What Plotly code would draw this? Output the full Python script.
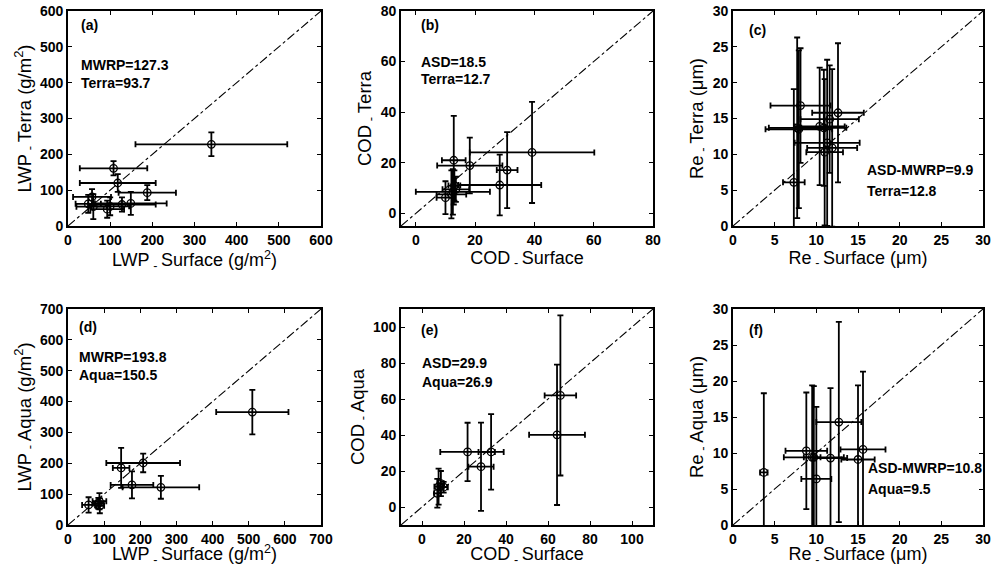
import plotly.graph_objects as go

# ---------------- data ----------------
# (a) LWP Surface vs LWP Terra
a_x = [340, 108, 118, 188, 149, 128, 57, 48, 60, 93, 100]
a_y = [228, 161, 120, 93, 63, 60, 81, 62, 54, 47, 55]
a_xerr = [180, 80, 90, 68, 85, 80, 45, 30, 40, 40, 45]
a_yerr = [33, 20, 25, 21, 32, 20, 22, 25, 35, 24, 25]

# (b) COD Surface vs COD Terra
b_x = [39.2, 30.8, 28.3, 18.2, 12.8, 10.0, 12.5, 13.5, 12.0, 13.0]
b_y = [24.1, 17.1, 11.2, 18.9, 21.0, 6.2, 8.5, 9.5, 7.5, 11.0]
b_xerr = [21, 3.5, 14, 11, 4, 3, 12.5, 4.5, 5, 2]
b_yerr = [20, 15, 12, 11, 17.5, 6.5, 9, 5, 9.5, 6]

# (c) Re Surface vs Re Terra
c_x = [7.3, 8.1, 7.7, 7.9, 10.4, 10.9, 11.6, 12.6, 11.3, 11.9, 11.0]
c_y = [6.1, 16.8, 13.7, 13.5, 13.9, 13.7, 14.9, 15.8, 11.6, 10.9, 10.3]
c_xerr = [1.3, 3.6, 3.4, 4.0, 3.0, 2.7, 3.5, 3.1, 3.9, 3.0, 2.2]
c_yerr = [13, 8, 12.6, 11, 8.2, 8.1, 7.5, 9.7, 11.6, 11.0, 10.2]

# (d) LWP Surface vs LWP Aqua
d_x = [510, 208, 147, 177, 257, 57, 87, 88, 84]
d_y = [366, 201, 185, 130, 122, 65, 77, 62, 70]
d_xerr = [100, 102, 23, 59, 106, 18, 19, 12, 15]
d_yerr = [72, 30, 65, 44, 37, 25, 26, 24, 18]

# (e) COD Surface vs COD Aqua
e_x = [65.9, 64.3, 21.7, 32.9, 28.1, 7.9, 9.0, 10.3, 7.3]
e_y = [62.0, 40.1, 30.6, 30.6, 22.4, 11.3, 13.0, 11.0, 7.6]
e_xerr = [7.5, 13.3, 13, 6, 6, 2, 1.5, 2, 1.5]
e_yerr = [44.5, 39, 16.2, 21, 24.5, 10, 7, 3, 8]

# (f) Re Surface vs Re Aqua
f_x = [3.7, 8.8, 9.5, 9.7, 10.0, 11.7, 12.7, 15.0, 15.6]
f_y = [7.3, 10.3, 9.4, 9.4, 6.4, 9.3, 14.3, 9.1, 10.5]
f_xerr = [0.45, 2.5, 1.0, 3.6, 1.8, 2.0, 2.7, 2.0, 2.7]
f_yerr = [11, 8.1, 10, 9.9, 10, 9.7, 13.9, 10.3, 10.8]

# tick values per panel
a_ticks = [0, 100, 200, 300, 400, 500, 600]
b_ticks = [0, 20, 40, 60, 80]
c_ticks = [0, 5, 10, 15, 20, 25, 30]
d_ticks = [0, 100, 200, 300, 400, 500, 600, 700]
e_ticks = [0, 20, 40, 60, 80, 100]
f_ticks = [0, 5, 10, 15, 20, 25, 30]

panel_labels = ["(a)", "(b)", "(c)", "(d)", "(e)", "(f)"]
stat_text = [
    ["MWRP=127.3", "Terra=93.7"],
    ["ASD=18.5", "Terra=12.7"],
    ["ASD-MWRP=9.9", "Terra=12.8"],
    ["MWRP=193.8", "Aqua=150.5"],
    ["ASD=29.9", "Aqua=26.9"],
    ["ASD-MWRP=10.8", "Aqua=9.5"],
]
SEP = "\u2009<sub>-</sub>\u2009"
x_titles = [
    "LWP" + SEP + "Surface (g/m<sup>2</sup>)",
    "COD" + SEP + "Surface",
    "Re" + SEP + "Surface (\u03bcm)",
    "LWP" + SEP + "Surface (g/m<sup>2</sup>)",
    "COD" + SEP + "Surface",
    "Re" + SEP + "Surface (\u03bcm)",
]
y_titles = [
    "LWP" + SEP + "Terra (g/m<sup>2</sup>)",
    "COD" + SEP + "Terra",
    "Re" + SEP + "Terra (\u03bcm)",
    "LWP" + SEP + "Aqua (g/m<sup>2</sup>)",
    "COD" + SEP + "Aqua",
    "Re" + SEP + "Aqua (\u03bcm)",
]
ranges = [[0, 600], [-5, 80], [0, 30], [0, 700], [-10, 110], [0, 30]]
ticks = [a_ticks, b_ticks, c_ticks, d_ticks, e_ticks, f_ticks]

# text placement inside each panel (fractions of the plot area):
# (label x, label y, stats x, stats line1 y, stats line2 y)
text_pos = [
    (0.045, 0.935, 0.045, 0.749, 0.665),
    (0.072, 0.935, 0.072, 0.764, 0.684),
    (0.055, 0.912, 0.527, 0.260, 0.164),
    (0.036, 0.915, 0.036, 0.779, 0.694),
    (0.072, 0.903, 0.076, 0.749, 0.663),
    (0.055, 0.903, 0.532, 0.262, 0.165),
]

# ---------------- layout geometry ----------------
W, H = 993, 567
col_px = [(68, 321), (401, 653), (733, 983)]
row_px = [(11, 226), (309, 525)]

data = [
    (a_x, a_y, a_xerr, a_yerr),
    (b_x, b_y, b_xerr, b_yerr),
    (c_x, c_y, c_xerr, c_yerr),
    (d_x, d_y, d_xerr, d_yerr),
    (e_x, e_y, e_xerr, e_yerr),
    (f_x, f_y, f_xerr, f_yerr),
]

FONT = "Liberation Sans"
fig = go.Figure()
layout = dict(
    width=W, height=H, margin=dict(l=0, r=0, t=0, b=0, autoexpand=False),
    paper_bgcolor="white", plot_bgcolor="white", showlegend=False,
    font=dict(family=FONT, color="black"),
)
annotations = []

for i, (xs, ys, xe, ye) in enumerate(data):
    r, c = divmod(i, 3)
    n = i + 1
    xk = "x" if n == 1 else f"x{n}"
    yk = "y" if n == 1 else f"y{n}"
    lo, hi = ranges[i]
    # 1:1 line
    fig.add_trace(go.Scatter(
        x=[lo, hi], y=[lo, hi], mode="lines", xaxis=xk, yaxis=yk,
        line=dict(color="black", width=1.1, dash="dashdot"), hoverinfo="skip"))
    fig.add_trace(go.Scatter(
        x=xs, y=ys, mode="markers", xaxis=xk, yaxis=yk,
        marker=dict(symbol="circle-open", size=7.5, color="black",
                    line=dict(width=1.3, color="black")),
        error_x=dict(type="data", array=xe, visible=True, color="black",
                     thickness=1.8, width=3),
        error_y=dict(type="data", array=ye, visible=True, color="black",
                     thickness=1.8, width=3),
    ))
    x0, x1 = col_px[c]
    y0, y1 = row_px[r]
    tv = ticks[i]
    common = dict(
        range=ranges[i], tickmode="array", tickvals=tv,
        ticktext=[f"<b>{v}</b>" for v in tv], ticklabeloverflow="allow",
        showgrid=False, zeroline=False, automargin=False,
        showline=True, linecolor="black", linewidth=1.6, mirror="allticks",
        ticks="inside", ticklen=4, tickwidth=1.3, tickcolor="black",
        tickfont=dict(family=FONT, size=14, color="black"),
    )
    layout["xaxis" + ("" if n == 1 else str(n))] = dict(
        common, domain=[x0 / W, x1 / W], anchor=yk,
        title=dict(text=x_titles[i], standoff=2,
                   font=dict(family=FONT, size=18, color="black")),
    )
    layout["yaxis" + ("" if n == 1 else str(n))] = dict(
        common, domain=[1 - y1 / H, 1 - y0 / H], anchor=xk,
        title=dict(text=y_titles[i], standoff=4,
                   font=dict(family=FONT, size=18.5, color="black")),
    )
    bold = dict(family=FONT, size=14, color="black")
    lx, ly, sx, sy1, sy2 = text_pos[i]
    annotations.append(dict(
        text="<b>" + panel_labels[i] + "</b>", xref=f"{xk} domain", yref=f"{yk} domain",
        x=lx, y=ly, xanchor="left", yanchor="middle", showarrow=False, font=bold))
    annotations.append(dict(
        text="<b>" + stat_text[i][0] + "</b>", xref=f"{xk} domain", yref=f"{yk} domain",
        x=sx, y=sy1, xanchor="left", yanchor="middle", showarrow=False, font=bold))
    annotations.append(dict(
        text="<b>" + stat_text[i][1] + "</b>", xref=f"{xk} domain", yref=f"{yk} domain",
        x=sx, y=sy2, xanchor="left", yanchor="middle", showarrow=False, font=bold))

layout["annotations"] = annotations
fig.update_layout(**layout)
# remove the default page margin so the figure fills the window exactly
fig.write_html("out.html",
               config={"displayModeBar": False},
               post_script="document.body.style.margin='0';document.body.style.overflow='hidden';")
